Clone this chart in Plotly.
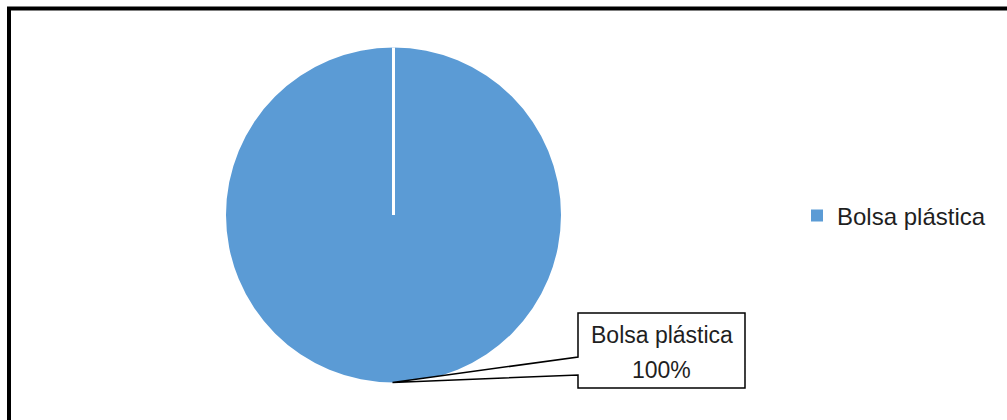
import plotly.graph_objects as go

# Data
labels = ["Bolsa plástica"]
values = [100]

W, H = 1007, 420
BLUE = "#5B9BD5"
TEXT = "#1f1f1f"
FONT = "Liberation Sans, Arial, sans-serif"

# Pie placement (paper fractions)
dom_x = [226 / W, 561 / W]
dom_y = [1 - 383 / H, 1 - 47 / H]


def px(x, y):
    """Pixel position -> paper coordinates."""
    return x / W, 1 - y / H


# Pie geometry derived from its domain
cx_px = (dom_x[0] + dom_x[1]) / 2 * W
cy_px = (1 - (dom_y[0] + dom_y[1]) / 2) * H
r_px = min((dom_x[1] - dom_x[0]) * W, (dom_y[1] - dom_y[0]) * H) / 2

fig = go.Figure(
    go.Pie(
        labels=labels,
        values=values,
        sort=False,
        direction="clockwise",
        rotation=0,
        textinfo="none",
        hoverinfo="skip",
        marker=dict(colors=[BLUE], line=dict(width=0)),
        domain=dict(x=dom_x, y=dom_y),
        showlegend=True,
    )
)

shapes = []

# Slice boundary from the top of the pie to its centre
x0, y0 = px(cx_px, cy_px - r_px)
x1, y1 = px(cx_px, cy_px)
shapes.append(dict(type="line", xref="paper", yref="paper",
                   x0=x0, y0=y0, x1=x1, y1=y1,
                   line=dict(color="white", width=3), layer="above"))

# Callout box with a pointer to the bottom of the pie
bx0, bx1, by0, by1 = 578, 745, 313, 388
n0, n1 = 357, 375
tip = (cx_px - 1, cy_px + r_px)
pts = [(bx0, by0), (bx1, by0), (bx1, by1), (bx0, by1), (bx0, n1), tip, (bx0, n0)]
path = "M " + " L ".join("{:.5f},{:.5f}".format(*px(x, y)) for x, y in pts) + " Z"
shapes.append(dict(type="path", xref="paper", yref="paper", path=path,
                   fillcolor="white", line=dict(color="black", width=1.5),
                   layer="above"))

# Outer frame (runs past the right and bottom edges)
fx0, fy0 = px(9, 8.5)
fx1, fy1 = px(W + 20, H + 20)
shapes.append(dict(type="rect", xref="paper", yref="paper",
                   x0=fx0, y0=fy1, x1=fx1, y1=fy0,
                   line=dict(color="black", width=4), fillcolor="rgba(0,0,0,0)",
                   layer="above"))

total = sum(values)
pct = "{:.0f}%".format(values[0] / total * 100)
tx = (bx0 + bx1) / 2
annotations = [
    dict(xref="paper", yref="paper", x=px(tx, 335)[0], y=px(tx, 335)[1],
         text=labels[0], showarrow=False, xanchor="center", yanchor="middle",
         font=dict(family=FONT, size=23, color=TEXT)),
    dict(xref="paper", yref="paper", x=px(tx, 370)[0], y=px(tx, 370)[1],
         text=pct, showarrow=False, xanchor="center", yanchor="middle",
         font=dict(family=FONT, size=23, color=TEXT)),
]

fig.update_layout(
    width=W, height=H,
    margin=dict(l=0, r=0, t=0, b=0),
    paper_bgcolor="white",
    plot_bgcolor="white",
    shapes=shapes,
    annotations=annotations,
    legend=dict(x=px(797, 0)[0], y=px(0, 216)[1], xanchor="left", yanchor="middle",
                font=dict(family=FONT, size=24, color=TEXT),
                bgcolor="rgba(0,0,0,0)"),
)

fig.write_html("out.html")
